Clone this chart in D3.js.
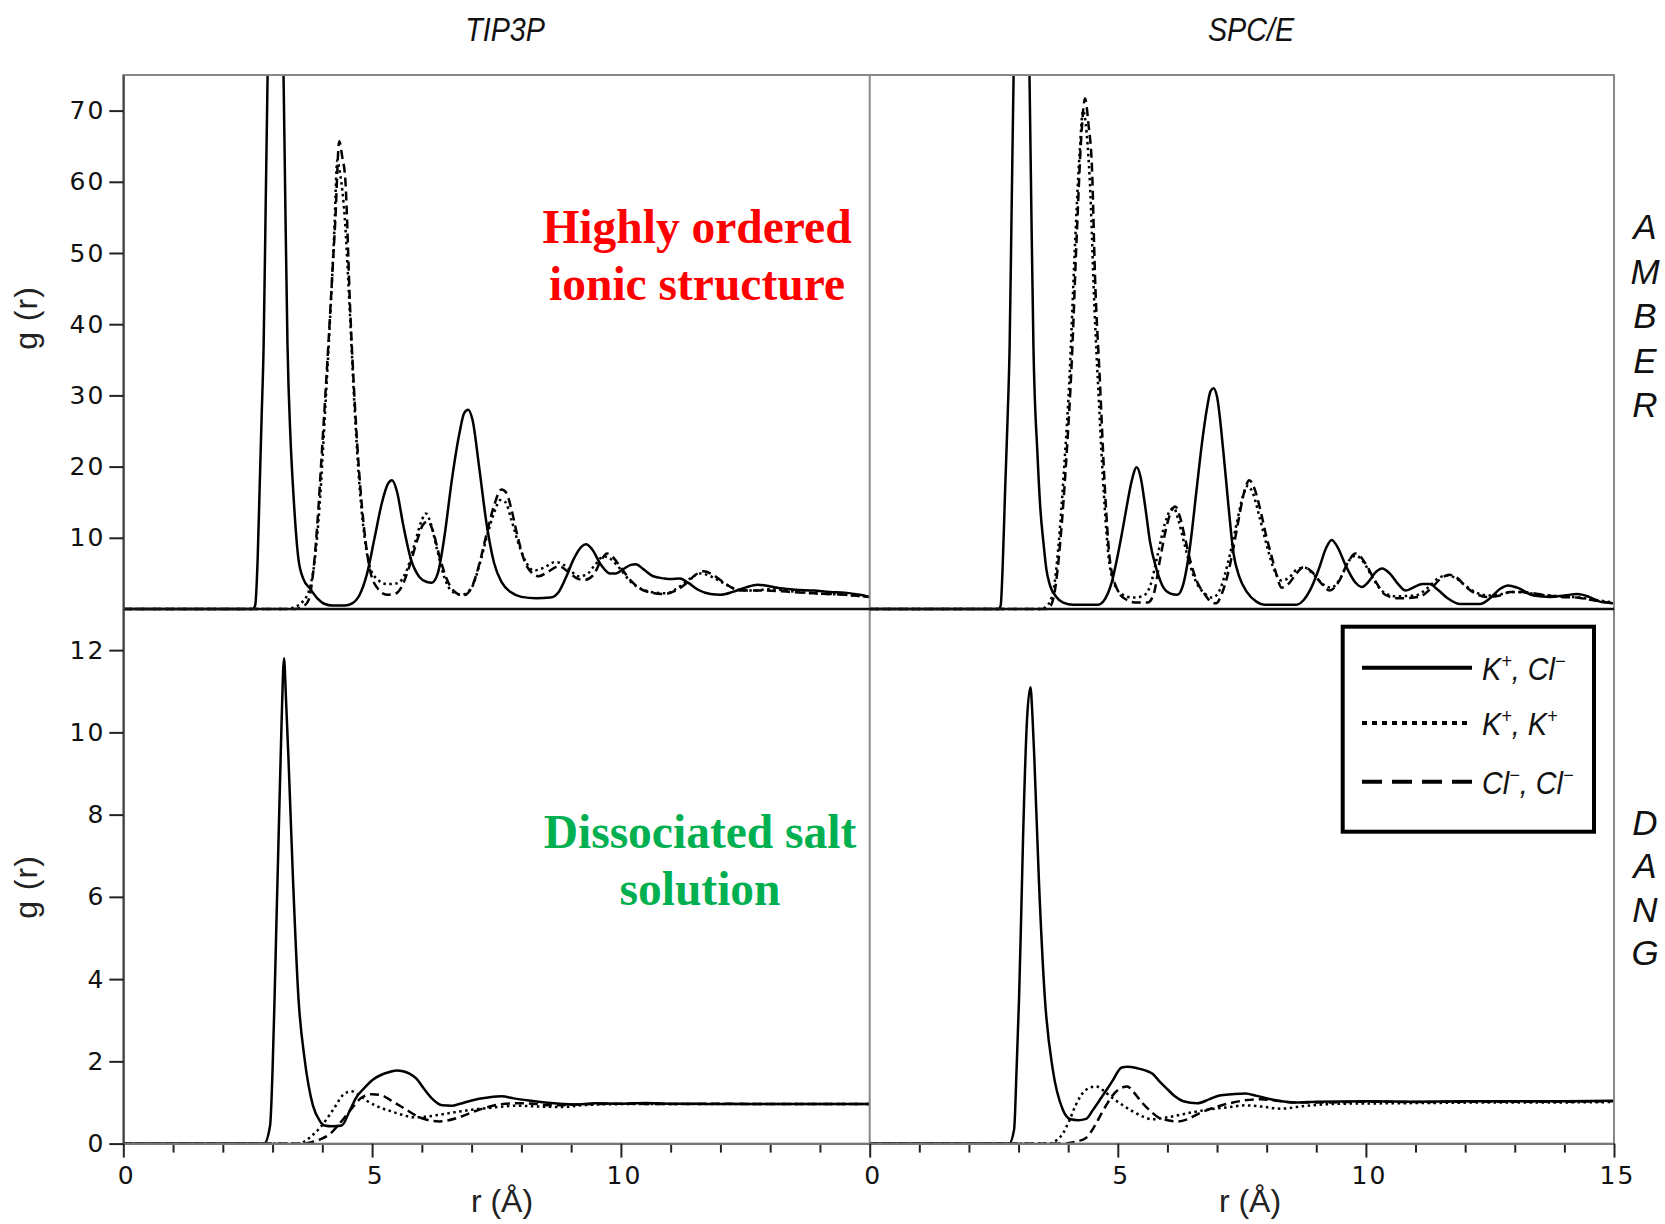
<!DOCTYPE html>
<html>
<head>
<meta charset="utf-8">
<script src="https://cdn.jsdelivr.net/npm/d3@7"></script>
<style>
  body { margin: 0; background: #fff; }
  svg { display: block; }
</style>
</head>
<body>
<div id="chart"></div>
<script>
// g(r) curves, [r (Å), g(r)]
const amberTip3pKCl = [[0,0],[2.6,0],[2.65,0.5],[2.70,7],[2.74,17],[2.78,27],[2.82,37],[2.86,56],[2.90,75],[2.96,100],[3.05,118],[3.14,100],[3.22,75],[3.26,55],[3.30,37],[3.36,24],[3.42,16],[3.52,7],[3.62,4.2],[3.75,2.9],[3.9,1.5],[4.05,0.7],[4.2,0.5],[4.45,0.5],[4.6,0.8],[4.75,2],[4.9,5],[5.05,10],[5.2,15],[5.32,17.6],[5.40,18.1],[5.5,16.5],[5.62,12],[5.78,7],[5.95,4.5],[6.1,3.8],[6.2,3.7],[6.32,5],[6.45,10],[6.6,18],[6.75,24.5],[6.85,27.5],[6.93,28],[7.02,26.5],[7.15,20],[7.3,12],[7.45,6.5],[7.6,3.8],[7.8,2.3],[8.0,1.7],[8.3,1.5],[8.58,1.6],[8.75,2.4],[8.9,4.5],[9.05,7],[9.2,8.7],[9.30,9.1],[9.42,8.4],[9.6,6.2],[9.78,5.0],[9.9,5.0],[10.05,5.6],[10.2,6.2],[10.3,6.3],[10.45,5.6],[10.65,4.6],[10.86,4.3],[11.0,4.2],[11.19,4.3],[11.35,3.7],[11.55,2.7],[11.8,2.1],[12.0,2.0],[12.25,2.4],[12.5,3.0],[12.75,3.4],[12.9,3.3],[13.2,2.9],[13.5,2.7],[13.87,2.6],[14.2,2.4],[14.5,2.3],[14.8,2.0],[15,1.7]];
const amberTip3pKK = [[0,0],[3.3,0],[3.45,0.3],[3.6,1.0],[3.75,3],[3.85,7],[3.95,15],[4.05,27],[4.15,40],[4.24,53],[4.30,63],[4.36,61],[4.45,55],[4.55,42],[4.65,28],[4.75,17],[4.85,10],[4.95,6],[5.1,4.2],[5.3,3.5],[5.5,3.6],[5.7,5.5],[5.85,9],[6.0,12.5],[6.08,13.4],[6.18,12],[6.3,8.5],[6.45,4.5],[6.6,2.5],[6.8,2.0],[7.0,3.0],[7.15,6],[7.3,10],[7.45,13.5],[7.58,15.3],[7.68,15],[7.8,12.5],[7.95,9],[8.1,6.5],[8.25,5.4],[8.45,5.8],[8.68,6.6],[8.85,6.2],[9.0,5.3],[9.15,4.6],[9.3,4.8],[9.48,6.2],[9.65,7.4],[9.8,7.0],[10.0,5.5],[10.2,3.8],[10.45,2.7],[10.7,2.3],[10.9,2.2],[11.15,3.0],[11.4,4.3],[11.6,5.0],[11.8,4.6],[12.05,3.7],[12.35,2.7],[12.7,2.6],[13.0,2.8],[13.4,2.5],[13.9,2.2],[14.5,2.0],[15,1.7]];
const amberTip3pClCl = [[0,0],[3.45,0],[3.6,0.3],[3.72,1.2],[3.82,5.4],[3.9,12],[3.99,22],[4.06,30],[4.12,37],[4.20,47],[4.26,54.5],[4.34,65.7],[4.40,63.5],[4.46,60.5],[4.56,42],[4.69,24.4],[4.83,11.9],[4.96,5.4],[5.1,3.0],[5.3,2.0],[5.45,2.1],[5.6,3.2],[5.75,6],[5.9,9.5],[6.02,11.8],[6.12,12.3],[6.22,11],[6.35,7.5],[6.5,4.2],[6.68,2.3],[6.84,1.9],[7.0,3.0],[7.15,6.2],[7.3,10.5],[7.45,14.5],[7.6,16.8],[7.7,16.3],[7.8,14],[7.91,10.6],[8.11,6.0],[8.35,4.6],[8.55,5.3],[8.75,6.0],[8.98,5.0],[9.15,4.2],[9.28,4.1],[9.45,4.8],[9.6,6.8],[9.72,7.8],[9.85,7.2],[9.99,5.9],[10.2,4.0],[10.46,2.6],[10.86,2.1],[11.1,2.6],[11.33,3.7],[11.5,4.8],[11.66,5.3],[11.85,4.8],[12.07,3.7],[12.4,2.6],[12.87,2.6],[13.4,2.4],[13.88,2.2],[14.5,2.0],[14.98,1.7]];

const amberSpceKCl = [[0,0],[2.6,0],[2.64,0.5],[2.68,6],[2.73,16.9],[2.78,27],[2.82,36.9],[2.86,56],[2.90,75],[2.96,100],[3.06,120],[3.15,100],[3.22,75],[3.26,55],[3.30,36.9],[3.38,21.9],[3.44,14],[3.50,9.4],[3.56,5.6],[3.63,3.4],[3.75,1.8],[3.9,0.9],[4.1,0.6],[4.6,0.6],[4.75,1.5],[4.88,3.8],[4.98,6.9],[5.08,10.5],[5.18,14.4],[5.28,18],[5.38,19.9],[5.46,18.5],[5.55,14.5],[5.65,9.4],[5.78,5.6],[5.92,3.0],[6.05,2.2],[6.2,2.0],[6.32,3.5],[6.45,8.5],[6.59,16.9],[6.70,23.5],[6.79,27.9],[6.87,30.6],[6.93,31],[7.0,29.8],[7.13,21.9],[7.23,14.5],[7.33,7.9],[7.45,4.5],[7.6,2.4],[7.8,1.0],[7.95,0.6],[8.6,0.6],[8.75,1.3],[8.9,3.0],[9.05,5.6],[9.2,8.6],[9.31,9.7],[9.42,8.8],[9.6,6.0],[9.78,3.8],[9.92,3.1],[10.05,3.8],[10.2,5.2],[10.33,5.7],[10.48,5.0],[10.65,3.5],[10.8,2.6],[10.95,3.0],[11.14,3.5],[11.28,3.5],[11.45,2.7],[11.65,1.5],[11.9,0.7],[12.3,0.7],[12.5,1.5],[12.7,2.8],[12.87,3.3],[13.05,3.0],[13.38,1.9],[13.72,1.7],[14.0,1.9],[14.26,2.1],[14.5,1.7],[14.73,1.0],[15,0.8]];
const amberSpceKK = [[0,0],[3.45,0],[3.58,0.5],[3.7,2.5],[3.8,8.5],[3.92,20],[4.03,33],[4.13,50],[4.23,64],[4.30,70],[4.37,67],[4.45,58],[4.52,44],[4.62,29],[4.72,16],[4.82,7],[4.95,3.2],[5.1,2.0],[5.3,1.6],[5.5,1.8],[5.65,3.2],[5.8,7.5],[5.95,12],[6.05,13.8],[6.13,14.2],[6.22,12.5],[6.33,9.5],[6.44,6.5],[6.6,3.5],[6.75,2.2],[6.9,1.6],[7.05,2.6],[7.22,6.5],[7.38,11.5],[7.52,15.8],[7.62,17.3],[7.72,16.3],[7.86,12.8],[8.0,9],[8.15,5.5],[8.3,4.0],[8.45,4.4],[8.62,5.6],[8.77,5.8],[8.95,4.8],[9.15,3.4],[9.3,3.0],[9.5,4.5],[9.66,6.8],[9.8,7.5],[9.95,6.6],[10.15,4.2],[10.35,2.4],[10.6,1.8],[11.0,1.9],[11.25,3.0],[11.45,4.3],[11.63,4.7],[11.8,4.4],[12.0,3.3],[12.2,2.4],[12.45,1.9],[12.75,2.1],[12.95,2.4],[13.2,2.3],[13.5,2.0],[13.9,1.8],[14.3,1.6],[14.7,1.2],[15,0.9]];
const amberSpceClCl = [[0,0],[3.55,0],[3.65,0.5],[3.73,2.5],[3.84,9.4],[3.97,21.9],[4.07,34.4],[4.17,52],[4.27,67],[4.34,71.7],[4.41,68],[4.48,61.9],[4.54,46.9],[4.64,31.9],[4.74,16.9],[4.84,6.9],[4.98,2.9],[5.15,1.4],[5.38,0.9],[5.6,0.9],[5.72,2.0],[5.85,6.9],[5.98,11.5],[6.08,13.8],[6.16,14.4],[6.25,13],[6.36,9.8],[6.46,6.8],[6.6,3.8],[6.74,2.2],[6.88,1.0],[6.98,0.8],[7.1,2.2],[7.28,6.8],[7.42,12],[7.55,16.5],[7.65,18.1],[7.75,17],[7.89,13.4],[8.0,10],[8.10,7.4],[8.2,4.8],[8.30,3.0],[8.45,3.6],[8.6,5.0],[8.75,5.9],[8.9,5.3],[9.1,3.6],[9.27,2.6],[9.45,3.8],[9.62,6.3],[9.79,7.8],[9.9,7.3],[9.99,6.4],[10.2,3.8],[10.39,2.0],[10.66,1.5],[11.07,1.7],[11.3,2.8],[11.5,4.2],[11.68,4.8],[11.85,4.3],[12.02,3.1],[12.2,2.2],[12.43,1.7],[12.7,1.9],[12.91,2.4],[13.15,2.4],[13.38,2.2],[13.65,1.9],[13.92,1.7],[14.25,1.6],[14.6,1.2],[15,0.8]];

const dangTip3pKCl = [[0,0],[2.83,0],[2.95,0.44],[3.0,1.8],[3.04,3.54],[3.08,5.5],[3.12,7.4],[3.18,10.2],[3.23,11.8],[3.27,10.8],[3.32,9.34],[3.41,6.44],[3.52,3.54],[3.64,2.09],[3.81,0.93],[3.95,0.55],[4.04,0.44],[4.2,0.42],[4.39,0.44],[4.55,0.8],[4.68,1.12],[4.85,1.36],[5.02,1.56],[5.2,1.68],[5.35,1.74],[5.5,1.78],[5.62,1.76],[5.75,1.7],[5.89,1.58],[6.05,1.32],[6.2,1.1],[6.41,0.93],[6.6,0.92],[6.77,0.97],[7.0,1.05],[7.33,1.12],[7.6,1.15],[7.85,1.1],[8.15,1.05],[8.49,1.0],[9.05,0.95],[9.5,0.98],[10,0.97],[10.5,0.99],[11,0.97],[11.5,0.97],[12,0.96],[13,0.96],[14,0.96],[15,0.96]];
const dangTip3pKK = [[0,0],[3.55,0],[3.64,0.05],[3.8,0.2],[3.99,0.44],[4.22,0.83],[4.45,1.22],[4.59,1.27],[4.75,1.17],[4.91,1.03],[5.15,0.88],[5.37,0.79],[5.6,0.7],[5.83,0.64],[6.05,0.65],[6.29,0.69],[6.65,0.76],[6.99,0.82],[7.45,0.88],[7.91,0.92],[8.4,0.9],[8.83,0.89],[9.3,0.94],[10,0.96],[11,0.96],[12,0.96],[13,0.96],[14,0.96],[15,0.96]];
const dangTip3pClCl = [[0,0],[3.65,0],[3.76,0.03],[3.95,0.1],[4.16,0.24],[4.3,0.42],[4.45,0.64],[4.62,0.9],[4.79,1.12],[5.0,1.2],[5.2,1.17],[5.4,1.03],[5.6,0.89],[5.95,0.64],[6.35,0.54],[6.75,0.64],[7.05,0.78],[7.33,0.89],[7.6,0.96],[7.91,0.98],[8.25,0.97],[8.6,0.93],[9.1,0.95],[10,0.97],[11,0.96],[12,0.97],[13,0.96],[14,0.96],[15,0.96]];

const dangSpceKCl = [[0,0],[2.81,0],[2.91,0.34],[2.96,1.8],[3.01,3.54],[3.05,5.4],[3.09,7.4],[3.17,10.3],[3.24,11.1],[3.28,10.4],[3.32,9.3],[3.41,6.4],[3.53,3.54],[3.69,1.8],[3.89,0.83],[4.05,0.59],[4.2,0.57],[4.36,0.6],[4.5,0.82],[4.67,1.12],[4.88,1.5],[5.08,1.85],[5.2,1.87],[5.4,1.83],[5.55,1.78],[5.70,1.70],[5.85,1.5],[6.01,1.31],[6.15,1.15],[6.32,1.03],[6.6,0.98],[6.85,1.08],[7.05,1.17],[7.3,1.2],[7.57,1.22],[7.8,1.16],[8.08,1.08],[8.6,1.0],[9,1.02],[10,1.03],[11,1.02],[12,1.03],[13,1.03],[14,1.03],[15,1.04]];
const dangSpceKK = [[0,0],[3.62,0],[3.69,0.03],[3.89,0.24],[4.02,0.55],[4.15,0.93],[4.36,1.31],[4.56,1.39],[4.72,1.28],[4.88,1.12],[5.08,0.95],[5.29,0.79],[5.5,0.66],[5.70,0.59],[5.95,0.63],[6.22,0.69],[6.5,0.76],[6.84,0.83],[7.2,0.88],[7.57,0.93],[7.9,0.9],[8.29,0.85],[8.8,0.92],[9.5,0.97],[10.5,0.98],[11.5,0.99],[12.5,1.0],[13.5,1.0],[15,1.01]];
const dangSpceClCl = [[0,0],[3.95,0],[4.05,0.02],[4.2,0.06],[4.36,0.14],[4.52,0.4],[4.67,0.73],[4.8,1.0],[4.93,1.22],[5.08,1.36],[5.19,1.39],[5.3,1.28],[5.4,1.13],[5.5,0.98],[5.65,0.8],[5.81,0.64],[6.0,0.57],[6.22,0.54],[6.42,0.6],[6.63,0.73],[6.95,0.88],[7.25,0.98],[7.55,1.05],[7.88,1.08],[8.2,1.04],[8.6,1.0],[9.2,1.0],[10,1.02],[11,1.01],[12,1.02],[13,1.02],[14,1.02],[15,1.03]];

const columnTitles = ["TIP3P", "SPC/E"];
const rowTitles = ["AMBER", "DANG"];
const topTicks = [10, 20, 30, 40, 50, 60, 70];
const bottomTicks = [0, 2, 4, 6, 8, 10, 12];
const rMajorLeft = [0, 5, 10];
const rMajorRight = [0, 5, 10, 15];
const rMinor = [1, 2, 3, 4, 6, 7, 8, 9, 11, 12, 13, 14];
const legendLabels = [["K", "+", "Cl", "\u2212"], ["K", "+", "K", "+"], ["Cl", "\u2212", "Cl", "\u2212"]];

const W = 1665, H = 1224;
const x0 = 123.3, xm = 869.7, x1 = 1614;
const y0 = 75, ym = 609, y1 = 1143.6;

const svg = d3.select("#chart").append("svg")
  .attr("width", W)
  .attr("height", H)
  .style("background", "#fff");

const xL = d3.scaleLinear().domain([0, 15]).range([x0, xm]);
const xR = d3.scaleLinear().domain([0, 15]).range([xm, x1]);
const yTop = d3.scaleLinear().domain([0, 75]).range([ym, y0]);
const yBot = d3.scaleLinear().domain([0, 13]).range([y1, ym]);

const dashes = [null, "2.5,3.5", "9,5"];

const panels = [
  { id: "p0", x: xL, y: yTop, series: [amberTip3pKCl, amberTip3pKK, amberTip3pClCl] },
  { id: "p1", x: xR, y: yTop, series: [amberSpceKCl, amberSpceKK, amberSpceClCl] },
  { id: "p2", x: xL, y: yBot, series: [dangTip3pKCl, dangTip3pKK, dangTip3pClCl] },
  { id: "p3", x: xR, y: yBot, series: [dangSpceKCl, dangSpceKK, dangSpceClCl] }
];

const defs = svg.append("defs");

panels.forEach(p => {
  const [ax, bx] = p.x.range();
  const [by, ay] = p.y.range();
  defs.append("clipPath").attr("id", "clip-" + p.id)
    .append("rect")
    .attr("x", ax).attr("y", ay)
    .attr("width", bx - ax).attr("height", by - ay + 2);

  const line = d3.line()
    .x(d => p.x(d[0]))
    .y(d => p.y(d[1]))
    .curve(d3.curveMonotoneX);

  const g = svg.append("g").attr("clip-path", `url(#clip-${p.id})`);
  p.series.forEach((s, i) => {
    g.append("path")
      .datum(s)
      .attr("d", line)
      .attr("fill", "none")
      .attr("stroke", "#000")
      .attr("stroke-width", 2.5)
      .attr("stroke-dasharray", dashes[i]);
  });
});

// frame
svg.append("rect")
  .attr("x", x0).attr("y", y0)
  .attr("width", x1 - x0).attr("height", y1 - y0)
  .attr("fill", "none").attr("stroke", "#888").attr("stroke-width", 2);
svg.append("line")
  .attr("x1", xm).attr("x2", xm).attr("y1", y0).attr("y2", y1)
  .attr("stroke", "#888").attr("stroke-width", 2);
svg.append("line")
  .attr("x1", x0).attr("x2", x1).attr("y1", ym).attr("y2", ym)
  .attr("stroke", "#111").attr("stroke-width", 2.5);

// y axes
function styleAxis(g) {
  g.select(".domain").attr("stroke", "#444").attr("stroke-width", 2);
  g.selectAll(".tick line").attr("stroke", "#222").attr("stroke-width", 2);
  g.selectAll(".tick text")
    .attr("fill", "#111")
    .style("font-family", "'DejaVu Sans', sans-serif")
    .style("font-size", "25px")
    .style("letter-spacing", "2px");
}

svg.append("g")
  .attr("transform", `translate(${x0},0)`)
  .call(d3.axisLeft(yTop).tickValues(topTicks).tickSize(14).tickSizeOuter(0).tickPadding(4))
  .call(styleAxis);
svg.append("g")
  .attr("transform", `translate(${x0},0)`)
  .call(d3.axisLeft(yBot).tickValues(bottomTicks).tickSize(14).tickSizeOuter(0).tickPadding(4))
  .call(styleAxis);

// x axes
[[xL, rMajorLeft], [xR, rMajorRight]].forEach(([sc, major]) => {
  svg.append("g")
    .attr("transform", `translate(0,${y1})`)
    .call(d3.axisBottom(sc).tickValues(rMinor).tickSize(9).tickSizeOuter(0).tickFormat(""))
    .call(styleAxis)
    .call(g => g.select(".domain").attr("stroke", "#777"));
  svg.append("g")
    .attr("transform", `translate(0,${y1})`)
    .call(d3.axisBottom(sc).tickValues(major).tickSize(14).tickSizeOuter(0).tickPadding(9))
    .call(styleAxis)
    .call(g => g.select(".domain").attr("stroke", "#777"))
    .call(g => g.selectAll(".tick text").attr("dx", 3));
});

// axis titles
const sans = "'Liberation Sans', Arial, sans-serif";
[[318], [887]].forEach(([cy]) => {
  svg.append("text")
    .attr("transform", `translate(37,${cy}) rotate(-90)`)
    .attr("text-anchor", "middle")
    .style("font-family", sans)
    .style("font-size", "32px")
    .style("letter-spacing", "1px")
    .attr("fill", "#222")
    .text("g (r)");
});
[502, 1250].forEach(cx => {
  svg.append("text")
    .attr("x", cx).attr("y", 1212)
    .attr("text-anchor", "middle")
    .style("font-family", sans)
    .style("font-size", "32px")
    .attr("fill", "#222")
    .text("r (\u00C5)");
});

// column titles
[[505, columnTitles[0]], [1251, columnTitles[1]]].forEach(([cx, t]) => {
  svg.append("text")
    .attr("transform", `translate(${cx},41) scale(0.87,1)`)
    .attr("text-anchor", "middle")
    .style("font-family", sans)
    .style("font-style", "italic")
    .style("font-size", "33px")
    .attr("fill", "#111")
    .text(t);
});

// row titles, stacked letters
[[239, 44.5, rowTitles[0]], [835, 43.4, rowTitles[1]]].forEach(([by, step, t]) => {
  t.split("").forEach((ch, i) => {
    svg.append("text")
      .attr("x", 1645).attr("y", by + i * step)
      .attr("text-anchor", "middle")
      .style("font-family", sans)
      .style("font-style", "italic")
      .style("font-size", "35px")
      .attr("fill", "#111")
      .text(ch);
  });
});

// annotations
const serif = "'Liberation Serif', 'Times New Roman', serif";
[
  ["Highly ordered", 697, 243, "#ff0000"],
  ["ionic structure", 697, 300, "#ff0000"],
  ["Dissociated salt", 700, 848, "#00b050"],
  ["solution", 700, 905, "#00b050"]
].forEach(([t, cx, cy, c]) => {
  svg.append("text")
    .attr("x", cx).attr("y", cy)
    .attr("text-anchor", "middle")
    .style("font-family", serif)
    .style("font-weight", "bold")
    .style("font-size", "47.5px")
    .attr("fill", c)
    .text(t);
});

// legend
const lg = svg.append("g");
lg.append("rect")
  .attr("x", 1342.7).attr("y", 626.7)
  .attr("width", 251.3).attr("height", 205)
  .attr("fill", "#fff").attr("stroke", "#000").attr("stroke-width", 4);
const legendDash = [null, "5,5", "20,10"];
const legendY = [667.7, 723, 781.7];
legendLabels.forEach((lab, i) => {
  lg.append("line")
    .attr("x1", 1362).attr("x2", 1472)
    .attr("y1", legendY[i]).attr("y2", legendY[i])
    .attr("stroke", "#000").attr("stroke-width", 4)
    .attr("stroke-dasharray", legendDash[i]);
  const t = lg.append("text")
    .attr("transform", `translate(1482,${legendY[i] + 12}) scale(0.9,1)`)
    .style("font-family", sans)
    .style("font-style", "italic")
    .style("font-size", "32px")
    .attr("fill", "#111");
  t.append("tspan").text(lab[0]);
  t.append("tspan").attr("dy", -12).style("font-size", "20px").text(lab[1]);
  t.append("tspan").attr("dy", 12).text(", " + lab[2]);
  t.append("tspan").attr("dy", -12).style("font-size", "20px").text(lab[3]);
});
</script>
</body>
</html>
